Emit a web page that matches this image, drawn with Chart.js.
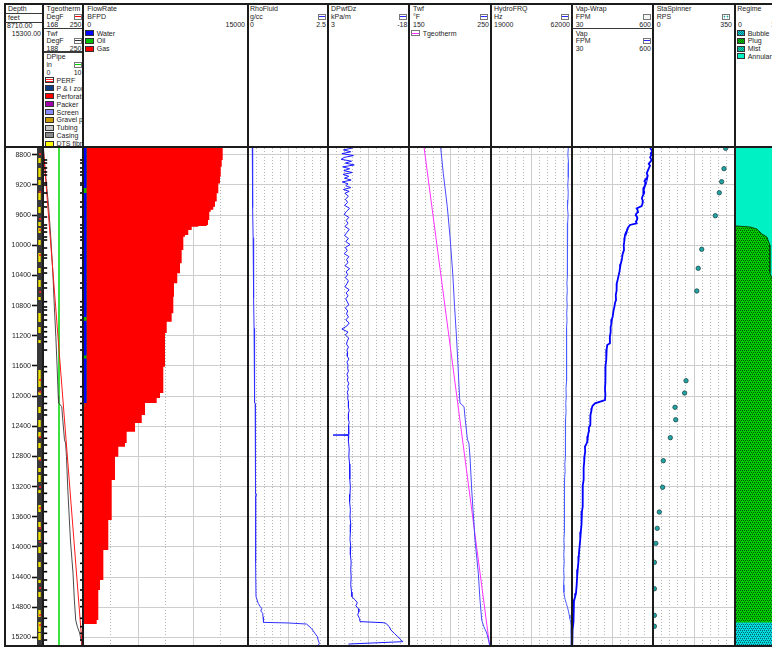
<!DOCTYPE html>
<html lang="en">
<head>
<meta charset="utf-8">
<title>Production log – flow profile and regime</title>
<script src="https://cdn.jsdelivr.net/npm/chart.js@4.4.1/dist/chart.umd.min.js"></script>
<style>
html,body{margin:0;padding:0;background:#fff;}
body{width:772px;height:647px;overflow:hidden;}
#log{position:relative;width:772px;height:647px;overflow:hidden;background:#fff;
  font-family:"Liberation Sans",Arial,Helvetica,sans-serif;font-size:7px;color:#1c1c1c;}
.col{position:absolute;top:4px;height:142px;overflow:hidden;}
.t{position:absolute;white-space:nowrap;line-height:8px;}
.sl{position:absolute;left:0;right:0;height:1px;background:#3a3a3a;}
.sym{position:absolute;box-sizing:border-box;width:8px;height:6px;border:1px solid #777;background:#fff;}
.sym b{position:absolute;left:0;right:0;top:1.5px;height:1.2px;}
.sw{position:absolute;box-sizing:border-box;border:1px solid #333;width:8.5px;height:6px;}
.vl{position:absolute;top:3px;height:644px;width:2px;background:#1c1c1c;z-index:3;}
.hl{position:absolute;left:4px;width:780px;background:#1c1c1c;z-index:3;}
.trk{position:absolute;top:148px;height:497px;}
.trk canvas{display:block;}
</style>
</head>
<body>
<div id="log">

<!-- ===== header ===== -->
<div class="col" style="left:5px;width:38px">
  <span class="t" style="left:3px;top:1px">Depth</span>
  <div class="sl" style="top:9px"></div>
  <span class="t" style="left:3px;top:9.5px">feet</span>
  <div class="sl" style="top:17.5px"></div>
  <span class="t" style="left:2px;top:18px">8710.00</span>
  <span class="t" style="right:2px;top:25.5px">15300.00</span>
</div>

<div class="col" style="left:43px;width:40px">
  <span class="t" style="left:3.5px;top:1px">Tgeotherm</span>
  <span class="t" style="left:3.5px;top:9px">DegF</span>
  <span class="sym" style="left:31px;top:9.5px"><b style="background:#f00"></b></span>
  <span class="t" style="left:3.5px;top:16.5px">168</span>
  <span class="t" style="right:1.5px;top:16.5px">250</span>
  <div class="sl" style="top:23.6px;height:1.5px"></div>
  <span class="t" style="left:3.5px;top:25.5px">Twf</span>
  <span class="t" style="left:3.5px;top:33px">DegF</span>
  <span class="sym" style="left:31px;top:33.7px"><b style="background:#333"></b></span>
  <span class="t" style="left:3.5px;top:40.5px">188</span>
  <span class="t" style="right:1.5px;top:40.5px">250</span>
  <div class="sl" style="top:47px;height:1.5px"></div>
  <span class="t" style="left:3.5px;top:49px">DPipe</span>
  <span class="t" style="left:3.5px;top:56.5px">in</span>
  <span class="sym" style="left:31px;top:57.7px"><b style="background:#00d000"></b></span>
  <span class="t" style="left:3.5px;top:64.5px">0</span>
  <span class="t" style="right:1.5px;top:64.5px">10</span>

  <span class="sw" style="left:2px;top:73.3px;background:linear-gradient(#fff 0 1px,#f22 1px 2px,#fff 2px 3px,#f22 3px 4px,#fff 4px)"></span>
  <span class="t" style="left:13.5px;top:72.8px">PERF</span>
  <span class="sw" style="left:2px;top:81px;background:radial-gradient(circle,#36c8ff 35%,transparent 45%) 0 0/2px 2px,#0b3c86"></span>
  <span class="t" style="left:13.5px;top:80.5px">P &amp; I zones</span>
  <span class="sw" style="left:2px;top:89px;background:#ff0000"></span>
  <span class="t" style="left:13.5px;top:88.5px">Perforations</span>
  <span class="sw" style="left:2px;top:97px;background:#a000aa"></span>
  <span class="t" style="left:13.5px;top:96.5px">Packer</span>
  <span class="sw" style="left:2px;top:105px;background:#8a8aff"></span>
  <span class="t" style="left:13.5px;top:104.5px">Screen</span>
  <span class="sw" style="left:2px;top:112.7px;background:#c89a00"></span>
  <span class="t" style="left:13.5px;top:112.2px">Gravel pack</span>
  <span class="sw" style="left:2px;top:120.7px;background:#c6c6c6"></span>
  <span class="t" style="left:13.5px;top:120.2px">Tubing</span>
  <span class="sw" style="left:2px;top:128.3px;background:#8a8a8a"></span>
  <span class="t" style="left:13.5px;top:127.8px">Casing</span>
  <span class="sw" style="left:2px;top:136.5px;background:#ffff00"></span>
  <span class="t" style="left:13.5px;top:136px">DTS fibre</span>
</div>

<div class="col" style="left:83px;width:165px">
  <span class="t" style="left:4.3px;top:1px">FlowRate</span>
  <span class="t" style="left:4.3px;top:9px">BFPD</span>
  <span class="t" style="left:4.3px;top:16.5px">0</span>
  <span class="t" style="right:3px;top:16.5px">15000</span>
  <span class="sw" style="left:2px;top:26px;width:9px;background:#0000ff"></span>
  <span class="t" style="left:13.7px;top:25.6px">Water</span>
  <span class="sw" style="left:2px;top:33.7px;width:9px;background:#00c000"></span>
  <span class="t" style="left:13.7px;top:33.3px">Oil</span>
  <span class="sw" style="left:2px;top:41.7px;width:9px;background:#ff0000"></span>
  <span class="t" style="left:13.7px;top:41px">Gas</span>
</div>

<div class="col" style="left:248px;width:80px">
  <span class="t" style="left:2px;top:1px">RhoFluid</span>
  <span class="t" style="left:2px;top:9px">g/cc</span>
  <span class="sym" style="left:69.7px;top:9.5px"><b style="background:#2a2aff"></b></span>
  <span class="t" style="left:2px;top:16.5px">0</span>
  <span class="t" style="right:2px;top:16.5px">2.5</span>
</div>

<div class="col" style="left:328px;width:81px">
  <span class="t" style="left:3px;top:1px">DPwfDz</span>
  <span class="t" style="left:3px;top:9px">kPa/m</span>
  <span class="sym" style="left:71px;top:9.5px"><b style="background:#2a2aff"></b></span>
  <span class="t" style="left:3px;top:16.5px">3</span>
  <span class="t" style="right:1.7px;top:16.5px">-18</span>
</div>

<div class="col" style="left:409px;width:82px">
  <span class="t" style="left:4px;top:1px">Twf</span>
  <span class="t" style="left:4px;top:9px">°F</span>
  <span class="sym" style="left:71.3px;top:9.5px"><b style="background:#2a2aff"></b></span>
  <span class="t" style="left:4px;top:16.5px">150</span>
  <span class="t" style="right:2px;top:16.5px">250</span>
  <span class="sym" style="left:2px;top:26px;width:8.7px"><b style="background:#ff33ff"></b></span>
  <span class="t" style="left:13.7px;top:25.6px">Tgeotherm</span>
</div>

<div class="col" style="left:491px;width:81px">
  <span class="t" style="left:3px;top:1px">HydroFRQ</span>
  <span class="t" style="left:3px;top:9px">Hz</span>
  <span class="sym" style="left:70.3px;top:9.5px"><b style="background:#2a2aff"></b></span>
  <span class="t" style="left:3px;top:16.5px">19000</span>
  <span class="t" style="right:2px;top:16.5px">62000</span>
</div>

<div class="col" style="left:572px;width:81px">
  <span class="t" style="left:3.7px;top:1px">Vap-Wrap</span>
  <span class="t" style="left:3.7px;top:9px">FPM</span>
  <span class="sym" style="left:71.3px;top:9.5px;background:#f4f4f4"></span>
  <span class="t" style="left:3.7px;top:16.5px">30</span>
  <span class="t" style="right:2px;top:16.5px">600</span>
  <div class="sl" style="top:24.3px"></div>
  <span class="t" style="left:3.7px;top:25.6px">Vap</span>
  <span class="t" style="left:3.7px;top:33px">FPM</span>
  <span class="sym" style="left:71.3px;top:33.5px"><b style="background:#2a2aff"></b></span>
  <span class="t" style="left:3.7px;top:40.5px">30</span>
  <span class="t" style="right:2px;top:40.5px">600</span>
</div>

<div class="col" style="left:653px;width:82px">
  <span class="t" style="left:3.7px;top:1px">StaSpinner</span>
  <span class="t" style="left:3.7px;top:9px">RPS</span>
  <span class="sym" style="left:69.3px;top:9.5px;background:radial-gradient(circle,#1c9c9c 40%,transparent 50%) 0 0/3px 3px,#fff"></span>
  <span class="t" style="left:3.7px;top:16.5px">0</span>
  <span class="t" style="right:3px;top:16.5px">350</span>
</div>

<div class="col" style="left:735px;width:42px">
  <span class="t" style="left:2.3px;top:1px">Regime</span>
  <span class="t" style="left:3px;top:16.5px">0</span>
  <span class="t" style="right:2px;top:16.5px">1</span>
  <span class="sw" style="left:1.7px;top:26px;background:repeating-conic-gradient(#0a6d7c 0 25%,#00e0e0 0 50%) 0 0/2px 2px"></span>
  <span class="t" style="left:12.7px;top:25.6px">Bubble</span>
  <span class="sw" style="left:1.7px;top:33.7px;background:repeating-conic-gradient(#056505 0 25%,#00d400 0 50%) 0 0/2px 2px"></span>
  <span class="t" style="left:12.7px;top:33.3px">Plug</span>
  <span class="sw" style="left:1.7px;top:41.7px;background:repeating-conic-gradient(#0a8a78 0 25%,#00e0b8 0 50%) 0 0/2px 2px"></span>
  <span class="t" style="left:12.7px;top:41px">Mist</span>
  <span class="sw" style="left:1.7px;top:49.3px;background:#00f2c4"></span>
  <span class="t" style="left:12.7px;top:48.7px">Annular</span>
</div>

<!-- ===== tracks ===== -->
<div class="trk" style="left:5px;width:38px"><canvas id="cDepth" width="38" height="497"></canvas></div>
<div class="trk" style="left:43px;width:40px"><canvas id="cTemp" width="40" height="497"></canvas></div>
<div class="trk" style="left:83px;width:165px"><canvas id="cFlow" width="165" height="497"></canvas></div>
<div class="trk" style="left:248px;width:80px"><canvas id="cRho" width="80" height="497"></canvas></div>
<div class="trk" style="left:328px;width:81px"><canvas id="cDpdz" width="81" height="497"></canvas></div>
<div class="trk" style="left:409px;width:82px"><canvas id="cTwf" width="82" height="497"></canvas></div>
<div class="trk" style="left:491px;width:81px"><canvas id="cHydro" width="81" height="497"></canvas></div>
<div class="trk" style="left:572px;width:81px"><canvas id="cVap" width="81" height="497"></canvas></div>
<div class="trk" style="left:653px;width:82px"><canvas id="cSpin" width="82" height="497"></canvas></div>
<div class="trk" style="left:735px;width:42px"><canvas id="cRegime" width="42" height="497"></canvas></div>

<!-- ===== frame ===== -->
<div class="hl" style="top:3px;height:1.5px"></div>
<div class="hl" style="top:146px;height:2px"></div>
<div class="hl" style="top:644.5px;height:2px"></div>
<div class="vl" style="left:4.3px;width:1.5px"></div>
<div class="vl" style="left:42px"></div>
<div class="vl" style="left:82px"></div>
<div class="vl" style="left:247px"></div>
<div class="vl" style="left:327px"></div>
<div class="vl" style="left:408px"></div>
<div class="vl" style="left:490px"></div>
<div class="vl" style="left:571px"></div>
<div class="vl" style="left:652px"></div>
<div class="vl" style="left:734px"></div>
</div>

<script>
// ---------------- depth range ----------------
const depthTop = 8710;
const depthBottom = 15300;
const depthTickStep = 400;

// ---------------- well schematic ----------------
const dtsIntervals = [
  [8843,8909],[8975,9095],[9134,9201],[9307,9400],[9492,9572],[9691,9744],[9771,9837],
  [9930,9996],[10102,10222],[10301,10368],[10460,10553],[10686,10726],[10898,11017],
  [11083,11163],[11256,11296],[11654,11879],[11945,11985],[12144,12224],[12317,12410],
  [12476,12542],[12622,12688],[12807,12847],[12953,13006],[13046,13139],[13245,13285],
  [13444,13537],[13669,13736],[13802,13908],[14001,14081],[14200,14266],[14438,14478],
  [14597,14664],[14836,14929],[14995,15128],[15141,15234]
];
const perfDepths = [8790,9293,9651,9797,10129,10619,11786,11945,12542,12847,13205,13484,13749,13934,14544,14902,15035];
const collarDepths = [
  8869,8909,8975,9028,9068,9174,9201,9307,9426,9492,9625,9731,9771,9824,9890,9930,10036,
  10129,10169,10301,10368,10500,10566,10748,10818,10858,10924,10991,11083,11146,11216,
  11278,11389,11610,11676,11875,12008,12097,12184,12250,12405,12472,12559,12648,12758,
  12847,12936,13046,13156,13289,13400,13532,13687,13798,13952,14084,14217,14328,14438,
  14571,14704,14792,14946,15057,15145,15234
];
const collarSides = [0.6, 9.7];           // in, on the DPipe scale
const dpipeProfile = [[8710, 4], [15300, 4]];

// ---------------- temperatures (degF) ----------------
const tgeothermProfile = [[8710, 168.5], [15300, 248.2]];
const twfProfile = [
  [8710,188.7],[9045,191.8],[9488,196.7],[9886,200.0],[10368,203.3],[10814,205.6],[11212,207.9],
  [11600,209.8],[12000,211.6],[12091,212.2],[12140,217.1],[12300,218.5],[12489,220.4],[12580,221.3],
  [12622,223.0],[12803,224.4],[13245,226.5],[13908,230.5],[14346,234.5],[14704,236.6],[14969,238.7],
  [15050,241.0],[15141,244.8],[15274,247.9],[15300,248.2]
];

// ---------------- flow rates (BFPD), value holds from the listed depth down ----------------
const waterRate = [[8710,320],[9240,0],[9307,320],[10950,0],[11000,320],[11460,0],[11500,320],[12091,0],[15300,0]];
const oilRate = [[8710,0],[9240,320],[9307,0],[10950,320],[11000,0],[11460,320],[11500,0],[12091,120],[12140,0],[15300,0]];
const gasRate = [
  [8710,12380],[8870,12290],[8960,12200],[9090,12135],[9180,11980],[9310,11835],[9420,11680],
  [9490,11525],[9530,11290],[9555,11160],[9665,11045],[9731,10925],[9744,10160],[9754,9560],
  [9797,9250],[9863,8950],[9886,8800],[10063,8650],[10239,8500],[10372,8250],[10504,7950],
  [10682,7890],[10902,7740],[11013,7290],[11163,7135],[11610,6980],[11959,6680],[12025,6380],
  [12091,5520],[12140,5640],[12250,5340],[12357,4730],[12472,3970],[12622,3820],[12671,3210],
  [12804,2910],[13112,2610],[13643,2300],[14041,1850],[14438,1545],[14571,1390],[14969,1245],
  [15022,0]
];

// ---------------- fluid density (g/cc) ----------------
const rhoFluid = [
  [8710,0.134],[9100,0.14],[9500,0.15],[9900,0.16],[10300,0.17],[10700,0.18],[11100,0.19],
  [11600,0.2],[12000,0.205],[12091,0.21],[12100,0.225],[12500,0.23],[13000,0.235],[13300,0.24],
  [13310,0.28],[13320,0.24],[13700,0.235],[14200,0.24],[14660,0.25],[14748,0.32],[14790,0.38],
  [14814,0.43],[14850,0.40],[14880,0.46],[14930,0.47],[14969,0.48],[15000,0.49],[15008,1.26],
  [15022,1.83],[15083,1.99],[15145,2.09],[15190,2.17],[15234,2.19],[15278,2.23],[15300,2.2]
];

// ---------------- pressure gradient (kPa/m) ----------------
const dpwfDz = [
  [8710,-3.4],[8735,-1.0],[8760,-2.9],[8785,-0.6],[8810,-3.6],[8835,-1.2],[8860,-0.4],[8885,-3.1],
  [8910,-1.5],[8935,-3.8],[8960,-0.8],[8985,-2.6],[9010,-1.1],[9035,-3.3],[9060,-0.9],[9085,-2.4],
  [9110,-1.3],[9135,-3.0],[9160,-0.7],[9185,-2.2],[9210,-1.6],[9235,-2.9],[9260,-1.0],[9285,-2.5],
  [9310,-1.4],[9350,-2.3],[9390,-1.5],[9430,-2.1],[9470,-1.3],[9510,-2.6],[9550,-1.8],[9590,-1.2],
  [9630,-2.4],[9670,-1.7],[9710,-2.2],[9750,-1.4],[9790,-2.5],[9830,-1.9],[9870,-1.3],[9910,-2.3],
  [9950,-1.6],[9990,-2.7],[10030,-1.5],[10070,-2.0],[10110,-1.2],[10150,-2.4],[10190,-1.8],
  [10230,-2.2],[10270,-1.4],[10310,-2.6],[10350,-1.7],[10390,-2.1],[10430,-1.5],[10470,-2.3],
  [10510,-1.9],[10550,-1.4],[10590,-2.5],[10630,-1.7],[10670,-2.2],[10710,-1.6],[10750,-2.0],
  [10790,-2.4],[10830,-1.5],[10870,-2.1],[10910,-1.8],[10950,-2.3],[10990,-1.6],[11030,-2.5],
  [11070,-1.9],[11110,-0.6],[11150,-2.2],[11190,-1.5],[11230,-2.4],[11270,-2.0],[11310,-1.8],
  [11350,-2.3],[11390,-1.9],[11430,-2.1],[11470,-2.0],[11510,-2.4],[11550,-1.9],[11590,-2.2],
  [11630,-2.1],[11670,-2.3],[11710,-1.9],[11750,-2.2],[11790,-2.0],[11830,-2.4],[11870,-2.1],
  [11910,-2.3],[11950,-2.0],[11990,-2.2],[12030,-2.1],[12070,-2.3],[12110,-2.4],[12150,-2.2],
  [12190,-2.5],[12230,-2.3],[12270,-2.4],[12310,-2.2],[12350,-2.5],[12390,-2.3],[12430,-2.4],
  [12470,-2.3],[12510,-2.4],[12516,1.7],[12522,-2.4],[12600,-2.3],[12700,-2.5],[12800,-2.4],
  [12900,-2.6],[13000,-2.7],[13100,-2.6],[13200,-2.8],[13300,-2.7],[13400,-2.6],[13500,-2.8],
  [13600,-2.7],[13700,-2.9],[13800,-2.8],[13900,-2.7],[14000,-2.9],[14100,-2.8],[14200,-3.0],
  [14300,-2.9],[14400,-3.0],[14500,-2.9],[14600,-3.1],[14660,-3.2],[14700,-4.0],[14740,-4.6],
  [14780,-4.2],[14820,-4.9],[14860,-5.0],[14900,-4.7],[14950,-5.2],[14990,-5.3],[15004,-11.3],
  [15013,-12.0],[15058,-12.9],[15101,-13.3],[15146,-14.2],[15190,-15.1],[15234,-16.0],
  [15256,-16.4],[15287,-2.3]
];

// ---------------- hydrophone frequency (Hz) ----------------
const hydroFrq = [
  [8710,60040],[8800,59800],[8900,60150],[9000,59900],[9100,60200],[9200,59750],[9300,60000],
  [9400,59850],[9500,59600],[9600,59950],[9700,59700],[9800,59500],[9900,59800],[10000,59600],
  [10100,59350],[10200,59700],[10300,59450],[10400,59600],[10500,59300],[10600,59500],[10700,59250],
  [10800,59450],[10900,59200],[11000,59350],[11100,59100],[11200,59300],[11300,59050],[11400,59250],
  [11500,59000],[11600,59200],[11700,58900],[11800,59100],[11900,58800],[12000,58950],[12100,58700],
  [12200,58850],[12300,58600],[12400,58750],[12500,58500],[12600,58650],[12700,58300],[12800,58450],
  [12900,58200],[13000,58350],[13100,58050],[13200,58250],[13300,57950],[13400,58150],[13500,57850],
  [13600,58050],[13700,57800],[13800,57950],[13900,57700],[14000,57900],[14100,57650],[14200,57850],
  [14300,57600],[14400,57800],[14500,57550],[14600,57700],[14650,58000],[14700,58400],[14750,59000],
  [14800,59600],[14850,60100],[14900,60500],[14950,60900],[15000,61300],[15050,61500],[15100,61400],
  [15200,61500],[15300,61450]
];

// ---------------- apparent velocity (FPM) ----------------
const vapVelocity = [
  [8710,579],[8735,590],[8760,595],[8780,584],[8800,588],[8835,580],[8869,591],[8900,578],
  [8920,570],[8945,579],[8960,575],[9000,566],[9045,556],[9075,563],[9100,560],[9125,548],
  [9150,540],[9175,549],[9200,545],[9235,536],[9267,532],[9295,539],[9320,535],[9350,526],
  [9380,522],[9410,529],[9443,527],[9480,520],[9510,485],[9535,492],[9560,495],[9580,483],
  [9600,478],[9630,490],[9660,488],[9685,480],[9709,485],[9731,438],[9762,426],[9780,421],
  [9800,418],[9830,410],[9864,403],[9900,401],[9950,398],[10000,394],[10063,396],[10100,389],
  [10130,385],[10160,383],[10195,380],[10250,372],[10300,368],[10350,364],[10417,356],[10460,351],
  [10504,345],[10550,346],[10600,342],[10660,338],[10726,340],[10760,333],[10800,330],[10870,322],
  [10947,316],[10980,311],[11010,308],[11045,305],[11080,302],[11110,304],[11150,300],[11220,296],
  [11300,297],[11322,278],[11380,274],[11450,270],[11520,272],[11600,266],[11680,264],[11750,268],
  [11820,263],[11900,262],[11980,265],[12052,262],[12095,192],[12130,174],[12162,169],[12200,166],
  [12250,160],[12320,161],[12383,157],[12420,148],[12460,150],[12493,145],[12530,142],[12560,140],
  [12600,136],[12626,133],[12671,121],[12730,123],[12800,118],[12870,116],[12950,112],[13030,114],
  [13112,110],[13180,106],[13250,104],[13350,107],[13466,105],[13530,100],[13600,98],[13700,96],
  [13800,92],[13900,88],[14040,81],[14120,78],[14200,75],[14300,70],[14400,66],[14500,63],
  [14615,58],[14660,52],[14704,44],[14780,42],[14850,40],[14920,41],[14991,39],[15100,34],[15300,32]
];

// ---------------- stationary spinner (RPS) ----------------
const staSpinner = [
  [8714,310],[8984,303],[9157,293],[9303,283],[9608,266],[10053,208],[10305,193],[10606,187],
  [11796,141],[11959,135],[12148,94],[12313,97],[12551,74],[12856,44],[13209,41],[13537,27],
  [13753,18],[13952,12],[14204,6],[14554,6],[14907,6],[15052,6]
];

// ---------------- flow regime (fraction of track) ----------------
const annularInterval = [8710, 15300];
const plugFraction = [
  [9744,0.02],[9757,0.36],[9784,0.52],[9850,0.64],[9890,0.76],[9996,0.83],[10368,0.83],
  [10500,0.92],[11000,0.97],[12000,0.99],[15004,1.0]
];
const bubbleInterval = [15004, 15300];

// =====================================================================
const FONT = '"Liberation Sans", Arial, sans-serif';
const GRID_SOLID = '#cdcdcd';
const GRID_DOT = '#b4b4b4';

function asPoints(pairs) { return pairs.map(([d, v]) => ({ x: v, y: d })); }

function stepValue(profile, depth) {
  let v = 0;
  for (const [d, val] of profile) { if (d <= depth) v = val; else break; }
  return v;
}

function hatchPattern(base, ink) {
  const tile = document.createElement('canvas');
  tile.width = 4; tile.height = 4;
  const g = tile.getContext('2d');
  g.fillStyle = base; g.fillRect(0, 0, 4, 4);
  g.fillStyle = ink;
  g.fillRect(0, 0, 1, 1); g.fillRect(2, 0, 1, 1);
  g.fillRect(1, 2, 1, 1); g.fillRect(3, 2, 1, 1);
  g.globalAlpha = 0.45;
  g.fillRect(1, 1, 1, 1); g.fillRect(3, 3, 1, 1);
  return g.createPattern(tile, 'repeat');
}

function depthScale(showGrid) {
  return {
    type: 'linear', min: depthTop, max: depthBottom, reverse: true, display: showGrid,
    ticks: { display: false, stepSize: depthTickStep, includeBounds: false },
    grid: { color: GRID_SOLID, lineWidth: 1, drawTicks: false },
    border: { display: false }
  };
}

function valueScales(min, max, minorDiv, majorDiv, reverse) {
  const span = max - min;
  return {
    x: { type: 'linear', min, max, reverse: !!reverse,
         ticks: { display: false, stepSize: span / minorDiv },
         grid: { color: GRID_DOT, lineWidth: 1, drawTicks: false },
         border: { display: false, dash: [1, 2] } },
    xMajor: { type: 'linear', axis: 'x', position: 'bottom', min, max, reverse: !!reverse,
         ticks: { display: false, stepSize: span / majorDiv },
         grid: { color: GRID_SOLID, lineWidth: 1, drawTicks: false },
         border: { display: false } },
    y: depthScale(true)
  };
}

function baseOptions(scales) {
  return {
    indexAxis: 'y', responsive: false, animation: false, events: [],
    layout: { padding: 0, autoPadding: false },
    plugins: { legend: { display: false }, tooltip: { enabled: false } },
    elements: { line: { tension: 0 }, point: { radius: 0 } },
    scales
  };
}

function curve(pairs, color, width, extra) {
  return Object.assign({
    data: asPoints(pairs), borderColor: color, borderWidth: width,
    pointRadius: 0, fill: false, xAxisID: 'x', yAxisID: 'y'
  }, extra || {});
}

function draw(id, datasets, scales) {
  new Chart(document.getElementById(id), { type: 'line', data: { datasets }, options: baseOptions(scales) });
}

// ---- depth column: casing strip, DTS fibre runs, perforation shots ----
(function () {
  const fibre = [];
  dtsIntervals.forEach(([top, bottom]) => {
    fibre.push({ x: 0.42, y: top }, { x: 0.42, y: bottom }, { x: null, y: bottom });
  });
  draw('cDepth', [
    { data: perfDepths.map(d => ({ x: 0.52, y: d })), showLine: false, pointRadius: 1.1,
      pointBackgroundColor: '#ff2020', pointBorderWidth: 0, borderColor: 'transparent', xAxisID: 'x', yAxisID: 'y' },
    { data: fibre, borderColor: '#f0e400', borderWidth: 2.4, borderCapStyle: 'butt', pointRadius: 0, xAxisID: 'x', yAxisID: 'y' },
    { data: [{ x: 1, y: depthTop }, { x: 1, y: depthBottom }], borderWidth: 0, pointRadius: 0,
      fill: 'origin', backgroundColor: '#383838', xAxisID: 'x', yAxisID: 'y' }
  ], {
    x: { type: 'linear', min: 0, max: 1, display: false },
    y: {
      type: 'linear', min: depthTop, max: depthBottom, reverse: true, position: 'left',
      afterFit(scale) { scale.width = 32; scale.paddingTop = 0; scale.paddingBottom = 0; },
      ticks: { stepSize: depthTickStep, includeBounds: false, padding: 1, autoSkip: false, color: '#1c1c1c',
               font: { family: FONT, size: 7 },
               callback: v => (v % depthTickStep === 0 ? String(v) : '') },
      grid: { drawOnChartArea: false, drawTicks: true, tickLength: 5, tickWidth: 1.6,
              tickColor: c => (c.tick && c.tick.value % depthTickStep === 0 ? '#111' : 'rgba(0,0,0,0)') },
      border: { display: false }
    }
  });
})();

// ---- temperature / pipe track ----
(function () {
  const marks = [];
  collarDepths.forEach(d => collarSides.forEach(s => marks.push({ x: s, y: d })));
  draw('cTemp', [
    { data: marks, showLine: false, pointStyle: 'line', pointRadius: 1.8, pointBorderWidth: 1.6,
      pointBorderColor: '#000', borderColor: '#000', xAxisID: 'dpipe', yAxisID: 'y' },
    curve(tgeothermProfile, '#ff1a1a', 1, { xAxisID: 'tgeo' }),
    curve(twfProfile, '#4a4a4a', 1, { xAxisID: 'twfL' }),
    curve(dpipeProfile, '#22dd22', 1, { xAxisID: 'dpipe' })
  ], {
    tgeo: { type: 'linear', axis: 'x', min: 168, max: 250, display: false },
    twfL: { type: 'linear', axis: 'x', min: 188, max: 250, display: false },
    dpipe: { type: 'linear', axis: 'x', min: 0, max: 10, display: false },
    y: depthScale(false)
  });
})();

// ---- flow rate track (water / oil / gas stacked) ----
(function () {
  const depths = [...new Set([...waterRate, ...oilRate, ...gasRate].map(p => p[0]))].sort((a, b) => a - b);
  const w = d => stepValue(waterRate, d);
  const o = d => stepValue(oilRate, d);
  const g = d => stepValue(gasRate, d);
  const edge = f => depths.map(d => ({ x: f(d), y: d }));
  const area = (pts, color) => ({ data: pts, stepped: 'after', borderWidth: 0, borderColor: 'transparent',
    pointRadius: 0, fill: 'origin', backgroundColor: color, xAxisID: 'x', yAxisID: 'y' });
  draw('cFlow', [
    area(edge(d => w(d)), '#0000ff'),
    area(edge(d => w(d) + o(d)), '#00c000'),
    area(edge(d => w(d) + o(d) + g(d)), '#ff0000')
  ], valueScales(0, 15000, 6, 3));
})();

draw('cRho', [curve(rhoFluid, '#3030ff', 1)], valueScales(0, 2.5, 10, 2));
draw('cDpdz', [curve(dpwfDz, '#1a1aff', 1)], valueScales(-18, 3, 10, 2, true));
draw('cTwf', [
  curve(twfProfile, '#4848ff', 1),
  curve(tgeothermProfile, '#ff30ff', 1)
], valueScales(150, 250, 10, 2));
draw('cHydro', [curve(hydroFrq, '#4a5cff', 1)], valueScales(19000, 62000, 10, 2));
draw('cVap', [curve(vapVelocity, '#0000ff', 1.8)], valueScales(30, 600, 10, 2));
draw('cSpin', [curve(staSpinner, '#1c9c9c', 0, {
  showLine: false, pointRadius: 2.2, pointStyle: 'circle',
  pointBackgroundColor: '#1fa5a5', pointBorderColor: '#234848', pointBorderWidth: 0.8
})], valueScales(0, 350, 10, 2));

// ---- flow regime track ----
draw('cRegime', [
  { data: [{ x: 1, y: bubbleInterval[0] }, { x: 1, y: bubbleInterval[1] }], borderWidth: 0, pointRadius: 0,
    fill: 'origin', backgroundColor: hatchPattern('#00e0e0', '#066070'), xAxisID: 'x', yAxisID: 'y' },
  { data: asPoints(plugFraction), borderWidth: 1, borderColor: '#064d06', pointRadius: 0,
    fill: 'origin', backgroundColor: hatchPattern('#00d400', '#045204'), xAxisID: 'x', yAxisID: 'y' },
  { data: [{ x: 1, y: annularInterval[0] }, { x: 1, y: annularInterval[1] }], borderWidth: 0, pointRadius: 0,
    fill: 'origin', backgroundColor: '#00f2c4', xAxisID: 'x', yAxisID: 'y' }
], {
  x: { type: 'linear', min: 0, max: 1, display: false },
  y: depthScale(false)
});
</script>
</body>
</html>
